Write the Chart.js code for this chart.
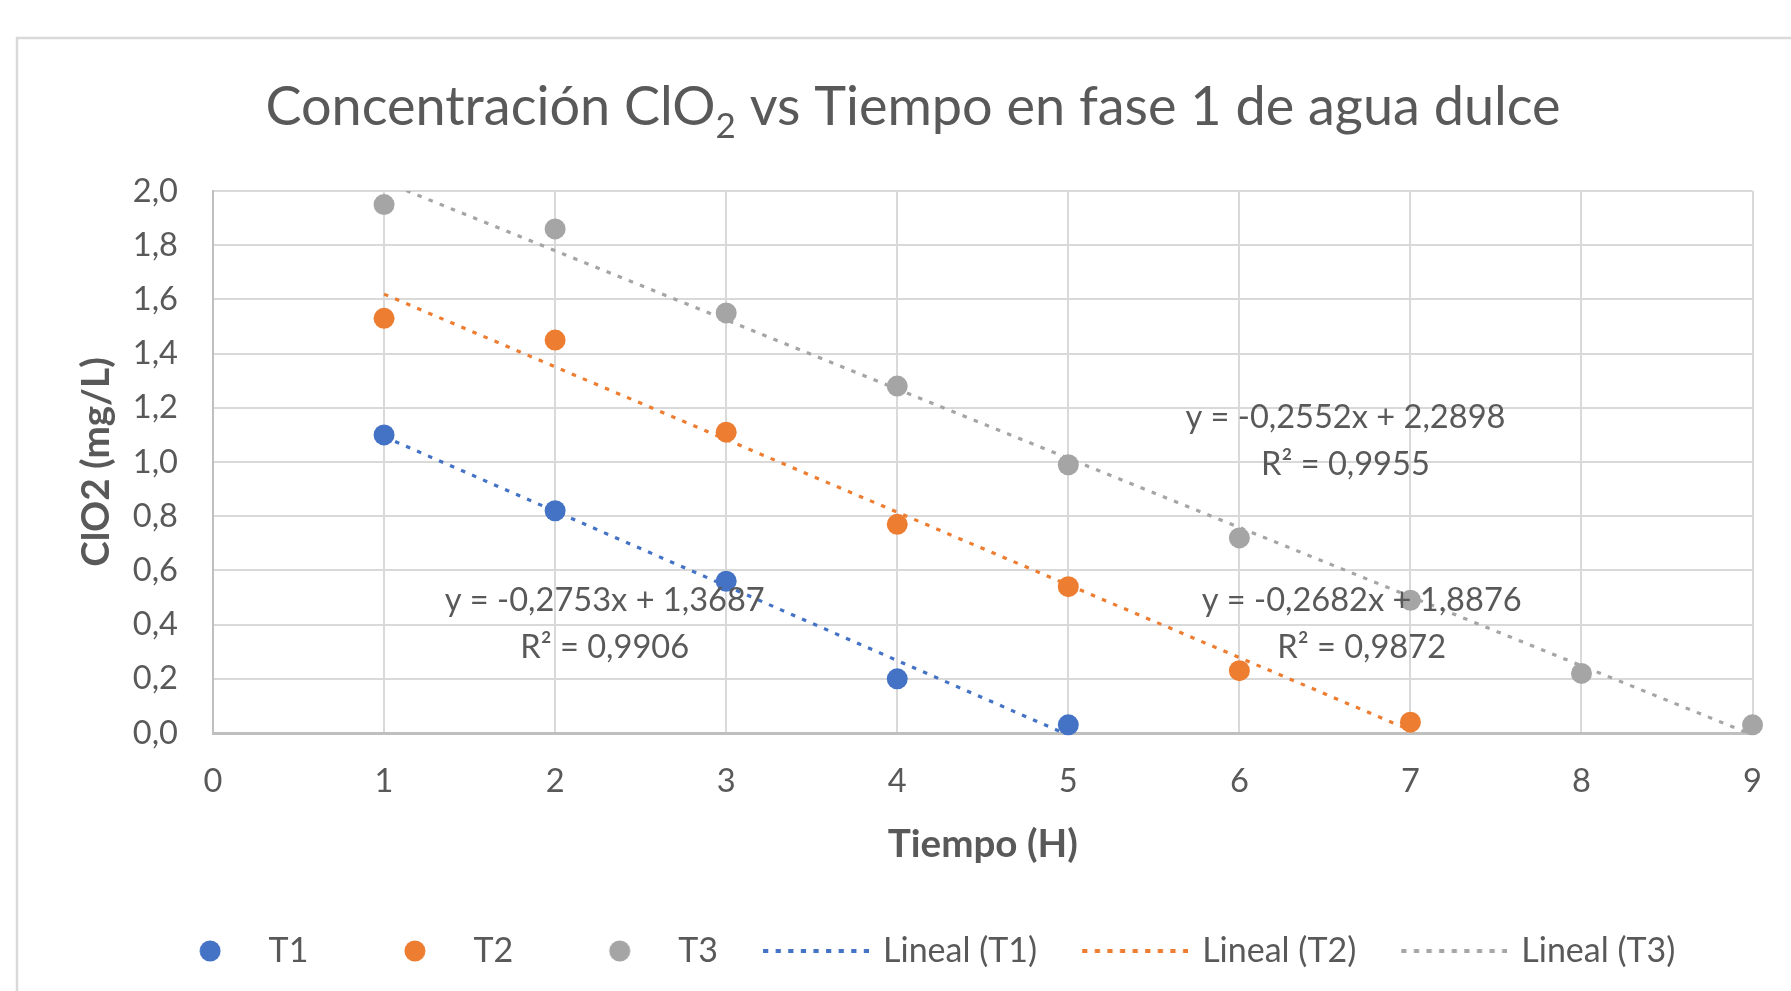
<!DOCTYPE html>
<html><head><meta charset="utf-8">
<script src="https://cdn.jsdelivr.net/npm/chart.js@4.4.1/dist/chart.umd.min.js"></script>
<style>html,body{margin:0;padding:0;background:#fff;overflow:hidden}#wrap{width:1791px;height:991px;position:relative}</style>
</head><body><div id="wrap"><canvas id="c" width="1791" height="991"></canvas></div>
<script>
// ---- data ----
const hours = [1, 2, 3, 4, 5, 6, 7, 8, 9];
const t1Values = [1.10, 0.82, 0.56, 0.20, 0.03];
const t2Values = [1.53, 1.45, 1.11, 0.77, 0.54, 0.23, 0.04];
const t3Values = [1.95, 1.86, 1.55, 1.28, 0.99, 0.72, 0.49, 0.22, 0.03];
const seriesNames = ['T1', 'T2', 'T3'];
const trendNames = ['Lineal (T1)', 'Lineal (T2)', 'Lineal (T3)'];
const trendSlopes = [-0.2753, -0.2682, -0.2552];
const trendIntercepts = [1.3687, 1.8876, 2.2898];
const trendR2 = [0.9906, 0.9872, 0.9955];
const xTickValues = [0, 1, 2, 3, 4, 5, 6, 7, 8, 9];
const yTickValues = [0, 0.2, 0.4, 0.6, 0.8, 1.0, 1.2, 1.4, 1.6, 1.8, 2.0];
const titleParts = ['Concentración ClO', '2', ' vs Tiempo en fase 1 de agua dulce'];
const xTitle = 'Tiempo (H)';
const yTitle = 'ClO2 (mg/L)';

// ---- styles ----
const colors = ['#4472C4', '#ED7D31', '#A5A5A5'];
const FONT = 'Lato, "Open Sans", sans-serif';
const TEXT = '#595959';
const TICK_SIZE = 32.6, LEGEND_SIZE = 34, AXIS_TITLE_SIZE = 38.6, LABEL_SIZE = 32.6;
const fmt = (v, d) => v.toFixed(d).replace('.', ',');

const allSeries = [t1Values, t2Values, t3Values];
const scatterSets = allSeries.map((vals, i) => ({
  label: seriesNames[i],
  data: vals.map((v, j) => ({x: hours[j], y: v})),
  backgroundColor: colors[i],
  borderColor: colors[i],
  pointRadius: 10.5,
  pointHoverRadius: 10.5,
  pointBorderWidth: 0,
  showLine: false,
  clip: false,
  order: 2
}));
const trendSets = allSeries.map((vals, i) => {
  const xs = [hours[0], hours[vals.length - 1]];
  return {
    label: trendNames[i],
    data: xs.map(x => ({x, y: trendIntercepts[i] + trendSlopes[i] * x})),
    borderColor: colors[i],
    backgroundColor: colors[i],
    borderWidth: 3.2,
    borderDash: [4.5, 7.5],
    pointRadius: 0,
    pointHoverRadius: 0,
    showLine: true,
    fill: false,
    clip: 0,
    order: 1
  };
});

// legend icons (small canvases used as point styles)
function circleIcon(color) {
  const c = document.createElement('canvas'); c.width = 40; c.height = 22;
  const g = c.getContext('2d'); g.fillStyle = color; g.beginPath(); g.arc(29, 11, 10.5, 0, Math.PI * 2); g.fill();
  return c;
}
function dotLineIcon(color) {
  const c = document.createElement('canvas'); c.width = 107; c.height = 6;
  const g = c.getContext('2d'); g.strokeStyle = color; g.lineWidth = 4; g.setLineDash([5.2, 7.4]);
  g.beginPath(); g.moveTo(1, 3); g.lineTo(107, 3); g.stroke();
  return c;
}
const legendIcons = colors.map(circleIcon).concat(colors.map(dotLineIcon));

const framePlugin = {
  id: 'frame',
  beforeDraw(chart) {
    const ctx = chart.ctx;
    ctx.save();
    ctx.fillStyle = '#fff'; ctx.fillRect(0, 0, chart.width, chart.height);
    ctx.strokeStyle = '#d9d9d9'; ctx.lineWidth = 2.5;
    ctx.beginPath(); ctx.moveTo(17, chart.height + 5); ctx.lineTo(17, 38); ctx.lineTo(chart.width + 5, 38); ctx.stroke();
    // title with subscript
    const big = 'normal 54px ' + FONT, small = 'normal 35px ' + FONT;
    ctx.font = big; const w0 = ctx.measureText(titleParts[0]).width, w2 = ctx.measureText(titleParts[2]).width;
    ctx.font = small; const w1 = ctx.measureText(titleParts[1]).width;
    let x = 913 - (w0 + w1 + w2) / 2; const base = 125;
    ctx.fillStyle = TEXT; ctx.textBaseline = 'alphabetic'; ctx.textAlign = 'left';
    ctx.font = big; ctx.fillText(titleParts[0], x, base); x += w0;
    ctx.font = small; ctx.fillText(titleParts[1], x, base + 13); x += w1;
    ctx.font = big; ctx.fillText(titleParts[2], x, base);
    ctx.restore();
  }
};

const trendLabelPlugin = {
  id: 'trendLabels',
  afterDatasetsDraw(chart, args, opts) {
    const ctx = chart.ctx, xs = chart.scales.x, ys = chart.scales.y;
    ctx.save();
    ctx.font = 'normal ' + LABEL_SIZE + 'px ' + FONT; ctx.fillStyle = TEXT; ctx.textAlign = 'center'; ctx.textBaseline = 'middle';
    opts.anchors.forEach((a, i) => {
      const px = xs.getPixelForValue(a.x), py = ys.getPixelForValue(a.y);
      ctx.fillText('y = ' + fmt(trendSlopes[i], 4) + 'x + ' + fmt(trendIntercepts[i], 4), px, py - opts.gap / 2);
      ctx.fillText('R² = ' + fmt(trendR2[i], 4), px, py + opts.gap / 2);
    });
    ctx.restore();
  }
};

new Chart(document.getElementById('c'), {
  type: 'scatter',
  data: {datasets: scatterSets.concat(trendSets)},
  options: {
    responsive: false,
    animation: false,
    events: [],
    layout: {padding: {left: 72, right: 37, top: 191, bottom: 13}},
    scales: {
      x: {
        type: 'linear', position: 'bottom', min: 0, max: 9,
        afterBuildTicks: s => { s.ticks = xTickValues.map(v => ({value: v})); },
        afterFit: s => { s.height = 154; },
        ticks: {font: {family: FONT, size: TICK_SIZE}, color: TEXT, padding: 29, callback: v => String(v)},
        grid: {color: '#d9d9d9', lineWidth: 2, drawTicks: false},
        border: {color: '#bfbfbf', width: 3},
        title: {display: true, text: xTitle, color: TEXT, font: {family: FONT, size: AXIS_TITLE_SIZE, weight: 'bold'}, padding: {top: 4, bottom: 18.8}}
      },
      y: {
        type: 'linear', min: 0, max: 2,
        afterBuildTicks: s => { s.ticks = yTickValues.map(v => ({value: v})); },
        afterFit: s => { s.width = 141; },
        ticks: {font: {family: FONT, size: TICK_SIZE}, color: TEXT, padding: 35, callback: v => fmt(v, 1)},
        grid: {color: '#d9d9d9', lineWidth: 2, drawTicks: false},
        border: {color: '#bfbfbf', width: 2},
        title: {display: true, text: yTitle, color: TEXT, font: {family: FONT, size: AXIS_TITLE_SIZE, weight: 'bold'}, padding: {top: 1.8, bottom: 4}}
      }
    },
    plugins: {
      title: {display: false},
      tooltip: {enabled: false},
      legend: {
        display: true, position: 'bottom',
        labels: {
          usePointStyle: true, pointStyleWidth: 101, boxHeight: 11, padding: 47,
          color: TEXT, font: {family: FONT, size: LEGEND_SIZE},
          generateLabels: chart => chart.data.datasets.map((ds, i) => ({
            text: ds.label, pointStyle: legendIcons[i], fillStyle: ds.borderColor,
            strokeStyle: ds.borderColor, lineWidth: 0, hidden: false, datasetIndex: i, fontColor: TEXT
          }))
        }
      },
      trendLabels: {gap: 46.7, anchors: [{x: 2.29, y: 0.401}, {x: 6.715, y: 0.401}, {x: 6.62, y: 1.078}]}
    }
  },
  plugins: [framePlugin, trendLabelPlugin]
});
</script>
</body></html>
